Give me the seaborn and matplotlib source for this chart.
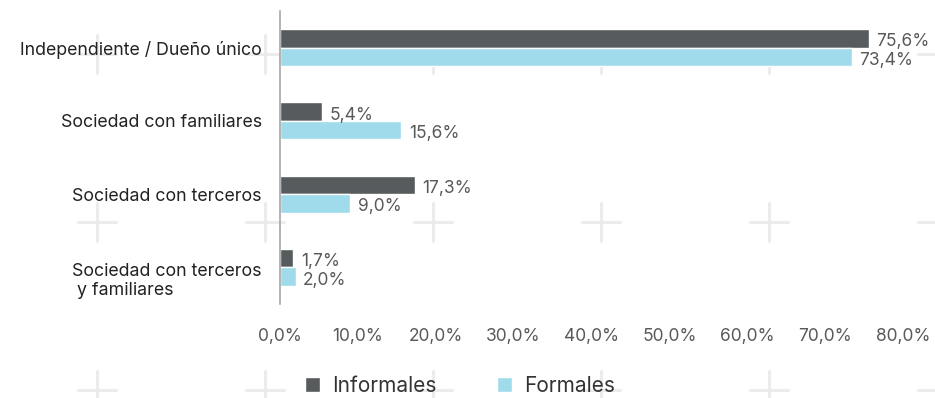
import matplotlib
matplotlib.use("Agg")
import matplotlib.pyplot as plt
from matplotlib.lines import Line2D
from matplotlib.ticker import FuncFormatter
from matplotlib.transforms import ScaledTranslation
import pandas as pd
import seaborn as sns

# Tipo de propiedad del negocio, por condición de formalidad (%)
categorias = [
    "Independiente / Dueño único",
    "Sociedad con familiares",
    "Sociedad con terceros",
    "Sociedad con terceros\n y familiares",
]
series = ["Informales", "Formales"]
informales = [75.6, 5.4, 17.3, 1.7]
formales = [73.4, 15.6, 9.0, 2.0]
ticks_x = [0, 10, 20, 30, 40, 50, 60, 70, 80]

colores = {"Informales": "#575b5d", "Formales": "#a0dbec"}

df = pd.DataFrame({
    "categoria": categorias * 2,
    "serie": [series[0]] * len(categorias) + [series[1]] * len(categorias),
    "valor": informales + formales,
})

sns.set_theme(style="white")
plt.rcParams["font.family"] = ["Inter", "DejaVu Sans"]

W, H = 935, 398
fig = plt.figure(figsize=(W / 100, H / 100), dpi=100)
fig.patch.set_facecolor("white")

# Fondo decorativo: cruces tenues en retícula
for cy in (54, 222, 390):
    for cx in (97, 265, 433, 601, 769, 937):
        for xs, ys in (((cx - 19, cx + 19), (cy, cy)), ((cx, cx), (cy - 19, cy + 19))):
            fig.add_artist(Line2D([x / W for x in xs], [1 - y / H for y in ys],
                                  transform=fig.transFigure, color="#ececec",
                                  lw=2.2, zorder=0.5))

ax = fig.add_axes([280 / W, 1 - 304 / H, (903 - 280) / W, (304 - 11) / H])
ax.set_zorder(1)
ax.patch.set_alpha(0)

sns.barplot(data=df, y="categoria", x="valor", hue="serie", order=categorias,
            hue_order=series, palette=colores, orient="h", width=0.505,
            saturation=1, ax=ax, legend=True)

for cont in ax.containers:
    etiquetas = [f"{b.get_width():.1f}%".replace(".", ",") for b in cont]
    anns = ax.bar_label(cont, labels=etiquetas, padding=6, fontsize=12.5, color="#595959")
    for a in anns:
        a.xyann = (5.5, -2.5)

ax.set_xlim(0, 80)
ax.set_ylim(3.5, -0.5)
ax.set_xticks(ticks_x)
ax.xaxis.set_major_formatter(FuncFormatter(lambda v, p: f"{v:.1f}%".replace(".", ",")))
ax.tick_params(axis="x", length=0, labelsize=12.5, labelcolor="#595959", pad=17)
ax.tick_params(axis="y", length=0, labelsize=12.8, labelcolor="#222222", pad=13)
ax.set_xlabel("")
ax.set_ylabel("")
for i, lbl in enumerate(ax.get_yticklabels()):
    lbl.set_horizontalalignment("right")
    lbl.set_multialignment("left")
    if "\n" in lbl.get_text():
        lbl.set_linespacing(1.1)
        lbl.set_transform(lbl.get_transform() + ScaledTranslation(0, -11 / 100, fig.dpi_scale_trans))

for s in ("top", "right", "bottom"):
    ax.spines[s].set_visible(False)
ax.spines["left"].set_color("#a6a6a6")
ax.spines["left"].set_linewidth(1.2)

handles, labels = ax.get_legend_handles_labels()
ax.legend(handles, labels, loc="center", bbox_to_anchor=(460 / W, 1 - 386 / H),
          bbox_transform=fig.transFigure, ncol=2, frameon=False, fontsize=15,
          handlelength=0.7, handleheight=0.7, handletextpad=0.6,
          columnspacing=2.9, labelcolor="#333333", borderpad=0.2)

fig.savefig("out.png", dpi=100, facecolor="white")
